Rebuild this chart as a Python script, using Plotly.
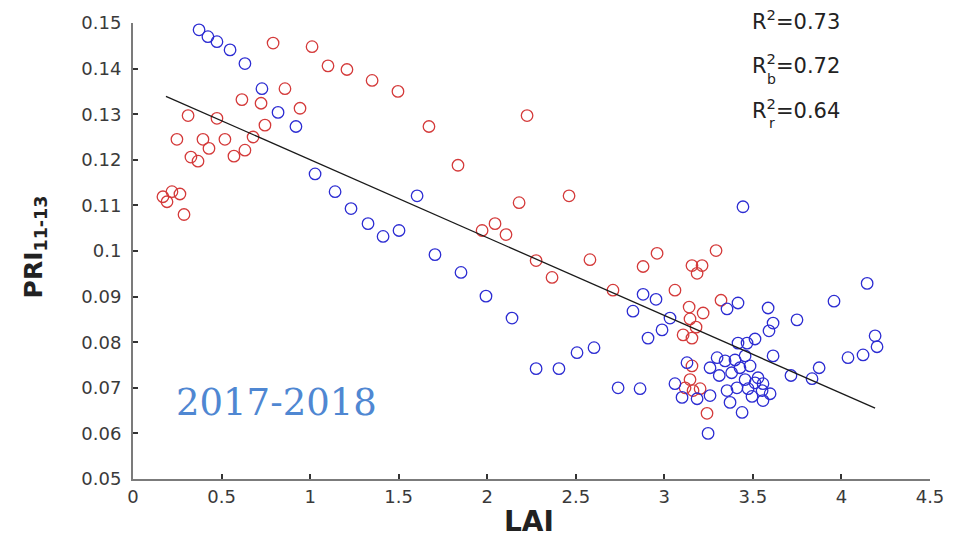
import plotly.graph_objects as go

# ---- data -------------------------------------------------------------
# blue series: LAI and PRI(11-13)
lai_b = [0.373, 0.423, 0.474, 0.548, 0.632, 0.728, 0.819, 0.920, 1.028, 1.141,
         1.231, 1.327, 1.412, 1.502, 1.604, 1.705, 1.852, 1.993, 2.140, 2.276,
         2.405, 2.507, 2.603, 2.739, 2.863, 2.823, 2.880, 2.953, 3.032, 2.987,
         2.908, 3.128, 3.258, 3.060, 3.100, 3.185, 3.258, 3.247, 3.439, 3.444,
         3.416, 3.354, 3.586, 3.749, 3.614, 3.591, 3.512, 3.467, 3.416, 3.614,
         3.456, 3.715, 3.834, 3.874, 3.958, 4.145, 4.190, 4.201, 4.122, 4.037,
         3.298, 3.343, 3.399, 3.427, 3.484, 3.529, 3.456, 3.512, 3.557, 3.410,
         3.473, 3.552, 3.597, 3.495, 3.557, 3.354, 3.371, 3.310, 3.380]
pri_b = [0.1485, 0.1470, 0.1459, 0.1441, 0.1411, 0.1356, 0.1304, 0.1273, 0.1169, 0.1130,
         0.1093, 0.1060, 0.1032, 0.1045, 0.1121, 0.0992, 0.0953, 0.0901, 0.0853, 0.0742,
         0.0742, 0.0777, 0.0788, 0.0700, 0.0698, 0.0868, 0.0905, 0.0894, 0.0853, 0.0827,
         0.0809, 0.0755, 0.0744, 0.0709, 0.0679, 0.0676, 0.0683, 0.0600, 0.0646, 0.1097,
         0.0886, 0.0873, 0.0875, 0.0849, 0.0842, 0.0825, 0.0807, 0.0798, 0.0798, 0.0770,
         0.0770, 0.0727, 0.0720, 0.0744, 0.0890, 0.0929, 0.0814, 0.0790, 0.0772, 0.0766,
         0.0766, 0.0759, 0.0761, 0.0744, 0.0748, 0.0722, 0.0718, 0.0711, 0.0709, 0.0700,
         0.0698, 0.0694, 0.0687, 0.0681, 0.0672, 0.0694, 0.0668, 0.0727, 0.0733]

# red series: LAI and PRI(11-13)
lai_r = [0.169, 0.192, 0.220, 0.265, 0.288, 0.248, 0.311, 0.327, 0.367, 0.395,
         0.429, 0.474, 0.519, 0.570, 0.632, 0.615, 0.678, 0.723, 0.745, 0.791,
         0.858, 0.943, 1.011, 1.101, 1.208, 1.350, 1.496, 1.671, 1.835, 2.225,
         2.462, 2.180, 2.044, 1.971, 2.106, 2.276, 2.366, 2.580, 2.710, 2.880,
         2.959, 3.292, 3.156, 3.213, 3.185, 3.060, 3.320, 3.140, 3.219, 3.145,
         3.179, 3.106, 3.156, 3.156, 3.145, 3.117, 3.202, 3.162, 3.241]
pri_r = [0.1119, 0.1108, 0.1130, 0.1125, 0.1080, 0.1245, 0.1297, 0.1206, 0.1197, 0.1245,
         0.1225, 0.1291, 0.1245, 0.1208, 0.1221, 0.1332, 0.1250, 0.1324, 0.1276, 0.1456,
         0.1356, 0.1313, 0.1448, 0.1406, 0.1398, 0.1374, 0.1350, 0.1273, 0.1188, 0.1297,
         0.1121, 0.1106, 0.1060, 0.1045, 0.1036, 0.0979, 0.0942, 0.0981, 0.0914, 0.0966,
         0.0995, 0.1001, 0.0968, 0.0968, 0.0951, 0.0914, 0.0892, 0.0877, 0.0864, 0.0851,
         0.0833, 0.0816, 0.0809, 0.0748, 0.0718, 0.0700, 0.0698, 0.0694, 0.0644]

# linear fit over all points: PRI = fit_intercept + fit_slope * LAI
fit_intercept = 0.1371
fit_slope = -0.01708
fit_range = [0.186, 4.19]

r2_labels = ["0.73", "0.72", "0.64"]
r2_subscripts = ["", "b", "r"]

x_ticks = [0, 0.5, 1, 1.5, 2, 2.5, 3, 3.5, 4, 4.5]
x_ticktext = ["0", "0.5", "1", "1.5", "2", "2.5", "3", "3.5", "4", "4.5"]
y_ticks = [0.05, 0.06, 0.07, 0.08, 0.09, 0.10, 0.11, 0.12, 0.13, 0.14, 0.15]
y_ticktext = ["0.05", "0.06", "0.07", "0.08", "0.09", "0.1", "0.11", "0.12", "0.13", "0.14", "0.15"]

period_label = "2017-2018"

# ---- figure -----------------------------------------------------------
SANS = "DejaVu Sans"
AXIS_GRAY = "#7b7b7b"

fig = go.Figure()

fig.add_trace(go.Scatter(
    x=lai_r, y=pri_r, mode="markers", name="r",
    marker=dict(symbol="circle-open", size=11.5, color="#d43a3a", line=dict(width=1.3)),
))
fig.add_trace(go.Scatter(
    x=lai_b, y=pri_b, mode="markers", name="b",
    marker=dict(symbol="circle-open", size=11.5, color="#2c2cd2", line=dict(width=1.3)),
))
fig.add_trace(go.Scatter(
    x=fit_range,
    y=[fit_intercept + fit_slope * v for v in fit_range],
    mode="lines", name="fit",
    line=dict(color="#1a1a1a", width=1.3),
))

axis_common = dict(
    showgrid=False, zeroline=False, showline=True, linecolor=AXIS_GRAY, linewidth=2,
    ticks="inside", ticklen=5, tickwidth=1.5, tickcolor="#333333",
    tickfont=dict(family=SANS, size=18, color="#3a3a3a"),
)

fig.update_xaxes(range=[0, 4.5], tickvals=x_ticks, ticktext=x_ticktext, **axis_common)
fig.update_yaxes(range=[0.05, 0.15], tickvals=y_ticks, ticktext=y_ticktext,
                 ticklabelstandoff=6, **axis_common)

annotations = [
    # axis titles
    dict(text="<b>LAI</b>", xref="paper", yref="paper", x=0.497, y=-0.094,
         xanchor="center", yanchor="middle", showarrow=False,
         font=dict(family=SANS, size=28, color="#222222")),
    dict(text="<b>PRI<sub>11-13</sub></b>", xref="paper", yref="paper", x=-0.123, y=0.51,
         xanchor="center", yanchor="middle", textangle=-90, showarrow=False,
         font=dict(family=SANS, size=25, color="#222222")),
    # period label
    dict(text=period_label, xref="x", yref="y", x=0.81, y=0.0668,
         xanchor="center", yanchor="middle", showarrow=False,
         font=dict(family="DejaVu Serif", size=37, color="#4f87d2")),
]

# R^2 labels in the upper right corner (paper coordinates)
r2_y = [1.006, 0.909, 0.811]
for label, sub, yy in zip(r2_labels, r2_subscripts, r2_y):
    annotations.append(dict(
        text="R<sup>2</sup>=" + label, xref="paper", yref="paper", x=0.7743, y=yy,
        xanchor="left", yanchor="middle", showarrow=False,
        font=dict(family=SANS, size=21, color="#222222"),
    ))
    if sub:
        annotations.append(dict(
            text=sub, xref="paper", yref="paper", x=0.8015, y=yy - 0.031,
            xanchor="center", yanchor="middle", showarrow=False,
            font=dict(family=SANS, size=14, color="#222222"),
        ))

fig.update_layout(
    width=957, height=539,
    margin=dict(l=133, r=27, t=20, b=60),
    paper_bgcolor="white", plot_bgcolor="white",
    showlegend=False,
    annotations=annotations,
)

fig.write_html("out.html")
